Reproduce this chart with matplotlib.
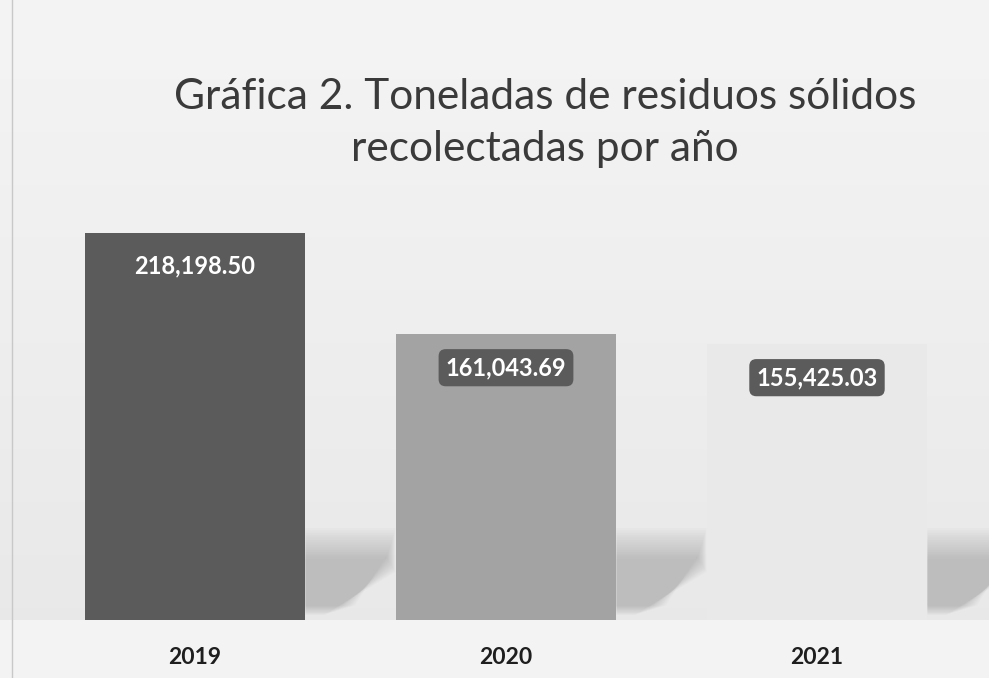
import matplotlib.pyplot as plt
import matplotlib.patches as mpatches
import numpy as np

# ─── data ───
years = ["2019", "2020", "2021"]
toneladas = [218198.50, 161043.69, 155425.03]
bar_colors = ["#5b5b5b", "#a3a3a3", "#e9e9e9"]
label_fmt = "{:,.2f}"

plt.rcParams['font.family'] = ['Lato', 'DejaVu Sans']

fig = plt.figure(figsize=(9.89, 6.78), dpi=100)

# background gradient (lighter strip under the baseline)
bg = fig.add_axes([0, 0, 1, 1])
bg.axis('off')
n = 678
grad = np.linspace(0.955, 0.905, n).reshape(-1, 1)
grad[-58:] = 0.95
bg.imshow(grad, cmap='gray', vmin=0, vmax=1, aspect='auto',
          extent=[0, 1, 0, 1])
bg.set_xlim(0, 1)
bg.set_ylim(0, 1)
bg.plot([0.012, 0.012], [0, 1], color='#c8c8c8', lw=1)

# plot area: bar centres at 195/506/817 px, baseline at 620 px from top
ax = fig.add_axes([0, 0, 1, 1])
ax.patch.set_alpha(0)
ax.axis('off')
px_per_unit = 311
ax.set_xlim(-195 / px_per_unit, (989 - 195) / px_per_unit)
scale = toneladas[0] / 387          # value per pixel
ax.set_ylim(-58 * scale, (678 - 58) * scale)

x = np.arange(len(years))
width = 0.71


def px(dx, dy):
    return dx / px_per_unit, dy * scale


# soft shadows in the gap to the right of each bar
for xi in x:
    r = xi + width / 2
    steps = 14
    for k in range(steps):
        s = k * 2.4  # shrink inward -> blurred edges
        w = 90 - s * 0.3
        pts = [px(0, 5 + s * 0.3), px(0, 92 - s), px(w, 92 - s),
               px(w, 48 + s * 0.5), px(18 + s, 5 + s * 0.3)]
        pts = [(r + a, b) for a, b in pts]
        ax.add_patch(mpatches.Polygon(pts, closed=True, color='#909090',
                                      alpha=0.04, lw=0, zorder=1))

ax.bar(x, toneladas, width=width, color=bar_colors, zorder=2)

for xi, h in zip(x, toneladas):
    ax.annotate(label_fmt.format(h), xy=(xi, h), xytext=(0, -24),
                textcoords='offset points', ha='center', va='center',
                fontsize=17, fontweight='bold', color='white', zorder=4,
                bbox=dict(boxstyle='round,pad=0.3,rounding_size=0.3',
                          fc='#5b5b5b', ec='none'))
    ax.annotate(years[xi], xy=(xi, 0), xytext=(0, -27),
                textcoords='offset points', ha='center', va='center',
                fontsize=16.5, fontweight='bold', color='#1e1e1e')

fig.text(0.551, 0.818, "Gráfica 2. Toneladas de residuos sólidos\nrecolectadas por año",
         ha='center', va='center', fontsize=30.5, color='#3a3a3a',
         linespacing=1.45)

fig.savefig("out.png", dpi=100)
